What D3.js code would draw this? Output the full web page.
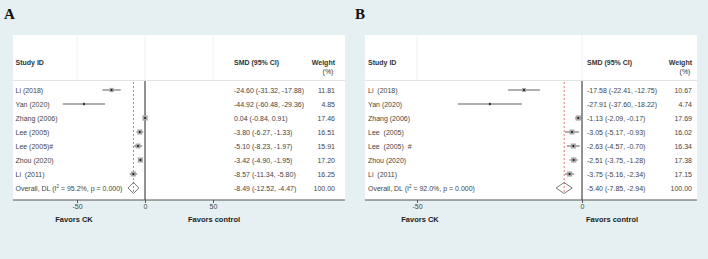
<!DOCTYPE html>
<html><head><meta charset="utf-8">
<script src="https://cdn.jsdelivr.net/npm/d3@7"></script>
<style>
html,body{margin:0;padding:0;background:#e6eff1;}
svg{display:block;font-family:"Liberation Sans",Arial,sans-serif;}
text{white-space:pre;}
</style></head>
<body>
<svg id="chart" width="708" height="259"></svg>
<script>
// ---------- DATA ----------
const studiesA = ["Li (2018)", "Yan (2020)", "Zhang (2006)", "Lee (2005)", "Lee (2005)#", "Zhou (2020)", "Li  (2011)"];
const smdA     = [-24.60, -44.92, 0.04, -3.80, -5.10, -3.42, -8.57];
const lowA     = [-31.32, -60.48, -0.84, -6.27, -8.23, -4.90, -11.34];
const highA    = [-17.88, -29.36, 0.91, -1.33, -1.97, -1.95, -5.80];
const weightA  = [11.81, 4.85, 17.46, 16.51, 15.91, 17.20, 16.25];
const overallA = {smd: -8.49, low: -12.52, high: -4.47, weight: 100.00, i2: "95.2%", p: "0.000"};
const ticksA   = [-50, 0, 50];

const studiesB = ["Li  (2018)", "Yan (2020)", "Zhang (2006)", "Lee  (2005)", "Lee  (2005)  #", "Zhou (2020)", "Li  (2011)"];
const smdB     = [-17.58, -27.91, -1.13, -3.05, -2.63, -2.51, -3.75];
const lowB     = [-22.41, -37.60, -2.09, -5.17, -4.57, -3.75, -5.16];
const highB    = [-12.75, -18.22, -0.17, -0.93, -0.70, -1.28, -2.34];
const weightB  = [10.67, 4.74, 17.69, 16.02, 16.34, 17.38, 17.15];
const overallB = {smd: -5.40, low: -7.85, high: -2.94, weight: 100.00, i2: "92.0%", p: "0.000"};
const ticksB   = [-50, 0];

const favorLabels = ["Favors CK", "Favors control"];

// ---------- DRAW ----------
const svg = d3.select("#chart");
const fmt2 = d3.format(".2f");
const f2 = v => fmt2(v).replace(/\u2212/g, "-");
const fInt = v => d3.format("d")(v).replace(/\u2212/g, "-");

function drawPanel(o) {
  const g = svg.append("g");
  g.append("text").attr("x", o.letterX).attr("y", 19)
    .attr("font-family", "'Liberation Serif','Times New Roman',serif")
    .attr("font-weight", "bold").attr("font-size", 15).attr("fill", "#111").text(o.letter);

  g.append("rect").attr("x", o.x0).attr("y", 35).attr("width", o.x1 - o.x0).attr("height", 200 - 35)
    .attr("fill", "#ffffff");

  const x = d3.scaleLinear().domain(o.domain).range(o.range);
  const rows = o.studies.concat(["__overall"]);
  const y = d3.scalePoint().domain(rows).range([90, 188]);

  g.selectAll(".hg").data(o.ticks).join("line")
    .attr("x1", d => x(d)).attr("x2", d => x(d)).attr("y1", 35).attr("y2", 80)
    .attr("stroke", "#f0f0f0").attr("stroke-width", 1);

  g.append("line").attr("x1", o.x0).attr("x2", o.x1).attr("y1", 80.5).attr("y2", 80.5)
    .attr("stroke", "#e2e2e2").attr("stroke-width", 1);

  const ht = (tx, ty, s, anchor) => g.append("text").attr("x", tx).attr("y", ty)
    .attr("text-anchor", anchor || "start").attr("font-size", 7).attr("font-weight", "bold")
    .attr("fill", "#333").text(s);
  ht(o.labelX, 64.5, "Study ID");
  ht(o.valX, 64.5, "SMD (95% CI)");
  ht(o.wX, 64.5, "Weight", "end");
  ht(o.wX - 7, 73.5, "(%)", "middle").attr("font-weight", "normal");

  g.append("line").attr("x1", x(0)).attr("x2", x(0)).attr("y1", 81).attr("y2", 200)
    .attr("stroke", "#222").attr("stroke-width", 1);
  g.append("line").attr("x1", x(o.overall.smd)).attr("x2", x(o.overall.smd)).attr("y1", 82).attr("y2", 194)
    .attr("stroke", "#d9534f").attr("stroke-width", 0.8).attr("stroke-dasharray", "2,2");

  const data = o.studies.map((s, i) => ({s, smd: o.smd[i], lo: o.low[i], hi: o.high[i], w: o.weight[i]}));

  g.selectAll(".ci").data(data).join("line")
    .attr("x1", d => x(d.lo)).attr("x2", d => x(d.hi))
    .attr("y1", d => y(d.s)).attr("y2", d => y(d.s))
    .attr("stroke", "#333").attr("stroke-width", 0.8);
  const bs = d => 1.25 * Math.sqrt(d.w);
  g.selectAll(".bx").data(data).join("rect")
    .attr("x", d => x(d.smd) - bs(d) / 2).attr("y", d => y(d.s) - bs(d) / 2)
    .attr("width", bs).attr("height", bs)
    .attr("fill", "#a8a8a8");
  g.selectAll(".pt").data(data).join("circle")
    .attr("cx", d => x(d.smd)).attr("cy", d => y(d.s)).attr("r", 1)
    .attr("fill", "#111");

  const yo = y("__overall");
  const dpath = `M${x(o.overall.low)},${yo} L${x(o.overall.smd)},${yo - 5.5} L${x(o.overall.high)},${yo} L${x(o.overall.smd)},${yo + 5.5} Z`;
  g.append("path").attr("d", dpath).attr("fill", "none").attr("stroke", "#444").attr("stroke-width", 0.7);

  const tt = (tx, ty, s, anchor) => g.append("text").attr("x", tx).attr("y", ty)
    .attr("text-anchor", anchor || "start").attr("font-size", 7).attr("fill", "#444").text(s);
  data.forEach(d => {
    tt(o.labelX, y(d.s) + 2.5, d.s);
    tt(o.valX, y(d.s) + 2.5, `${f2(d.smd)} (${f2(d.lo)}, ${f2(d.hi)})`);
    tt(o.wX, y(d.s) + 2.5, f2(d.w), "end");
  });
  const ov = g.append("text").attr("x", o.labelX).attr("y", yo + 2.5).attr("font-size", 7).attr("fill", "#444");
  ov.append("tspan").text("Overall, DL (I");
  ov.append("tspan").attr("font-size", 4.5).attr("dy", -2.5).text("2");
  ov.append("tspan").attr("dy", 2.5).text(` = ${o.overall.i2}, p = ${o.overall.p})`);
  tt(o.valX, yo + 2.5, `${f2(o.overall.smd)} (${f2(o.overall.low)}, ${f2(o.overall.high)})`);
  tt(o.wX, yo + 2.5, f2(o.overall.weight), "end");

  g.append("line").attr("x1", o.x0).attr("x2", o.x1).attr("y1", 200).attr("y2", 200)
    .attr("stroke", "#555").attr("stroke-width", 1);
  const ax = g.append("g").attr("transform", "translate(0,200)")
    .call(d3.axisBottom(x).tickValues(o.ticks).tickSize(3).tickPadding(1).tickFormat(fInt));
  ax.select(".domain").remove();
  ax.selectAll("line").attr("stroke", "#555");
  ax.selectAll("text").attr("font-size", 7).attr("fill", "#444")
    .attr("font-family", "'Liberation Sans',Arial,sans-serif");

  favorLabels.forEach((s, i) => {
    g.append("text").attr("x", o.favX[i]).attr("y", 221.5).attr("text-anchor", "middle")
      .attr("font-size", 7.5).attr("font-weight", "bold").attr("fill", "#222").text(s);
  });
}

drawPanel({letter: "A", letterX: 4, x0: 13, x1: 345, domain: [-50, 50], range: [77, 213], ticks: ticksA,
  studies: studiesA, smd: smdA, low: lowA, high: highA, weight: weightA, overall: overallA,
  labelX: 15.5, valX: 234, wX: 335, favX: [74, 214]});
drawPanel({letter: "B", letterX: 355, x0: 365, x1: 697, domain: [-50, 0], range: [417, 582], ticks: ticksB,
  studies: studiesB, smd: smdB, low: lowB, high: highB, weight: weightB, overall: overallB,
  labelX: 368, valX: 587, wX: 692, favX: [420, 612]});
</script>
</body></html>
